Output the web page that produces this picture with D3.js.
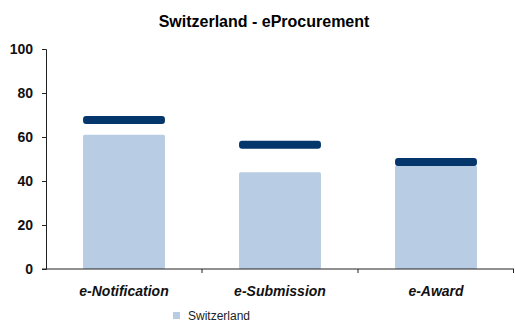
<!DOCTYPE html>
<html>
<head>
<meta charset="utf-8">
<script src="https://cdn.jsdelivr.net/npm/d3@7"></script>
<style>
  html, body { margin: 0; padding: 0; background: #fff; }
  svg { display: block; font-family: "Liberation Sans", Arial, sans-serif; }
</style>
</head>
<body>
<svg id="chart" width="515" height="325"></svg>
<script>
// eProcurement indicators for Switzerland
const categories = ["e-Notification", "e-Submission", "e-Award"];
const switzerlandValues = [61, 44, 47];
const benchmarkValues = [67.7, 56.5, 48.6];
const yTicks = [0, 20, 40, 60, 80, 100];
const seriesName = "Switzerland";
const titleText = "Switzerland - eProcurement";

const svg = d3.select("#chart");
const margin = { left: 46, right: 1, top: 49, bottom: 56 };
const W = 515, H = 325;

const x = d3.scaleBand()
  .domain(categories)
  .range([margin.left, W - margin.right])
  .paddingInner(0.475)
  .paddingOuter(0.2375);

const xOuter = d3.scaleBand()
  .domain(categories)
  .range([margin.left, W - margin.right]);

const y = d3.scaleLinear()
  .domain([0, 100])
  .range([H - margin.bottom, margin.top]);

// Title
svg.append("text")
  .attr("x", 264)
  .attr("y", 27)
  .attr("text-anchor", "middle")
  .attr("font-size", 16)
  .attr("font-weight", "bold")
  .attr("fill", "#000")
  .text(titleText);

// Bars
svg.append("g")
  .selectAll("rect")
  .data(categories)
  .join("rect")
  .attr("x", d => x(d))
  .attr("width", x.bandwidth())
  .attr("y", (d, i) => y(switzerlandValues[i]))
  .attr("height", (d, i) => y(0) - y(switzerlandValues[i]))
  .attr("rx", 1.5)
  .attr("fill", "#b8cce4");

// Benchmark markers
const markH = 8;
svg.append("g")
  .selectAll("rect")
  .data(categories)
  .join("rect")
  .attr("x", d => x(d))
  .attr("width", x.bandwidth())
  .attr("y", (d, i) => y(benchmarkValues[i]) - markH / 2)
  .attr("height", markH)
  .attr("rx", 3)
  .attr("fill", "#04356b");

// Y axis
const yAxis = svg.append("g")
  .attr("transform", `translate(${margin.left},0)`)
  .call(d3.axisLeft(y).tickValues(yTicks).tickSize(4).tickPadding(9));
yAxis.select(".domain").attr("stroke", "#222");
yAxis.selectAll(".tick line").attr("stroke", "#222");
yAxis.selectAll(".tick text")
  .attr("font-size", 14)
  .attr("font-weight", "bold")
  .attr("fill", "#111")
  .attr("font-family", "Liberation Sans, Arial, sans-serif");

// X axis
const xAxisG = svg.append("g")
  .attr("transform", `translate(0,${y(0)})`);
xAxisG.append("line")
  .attr("x1", margin.left - 4)
  .attr("x2", W - margin.right)
  .attr("stroke", "#222");
xAxisG.selectAll("line.sep")
  .data(categories.slice(1).concat(["end"]))
  .join("line")
  .attr("class", "sep")
  .attr("x1", (d, i) => i < categories.length - 1 ? xOuter(d) : W - margin.right - 0.5)
  .attr("x2", (d, i) => i < categories.length - 1 ? xOuter(d) : W - margin.right - 0.5)
  .attr("y1", 0)
  .attr("y2", 4)
  .attr("stroke", "#222");
xAxisG.selectAll("text")
  .data(categories)
  .join("text")
  .attr("x", d => xOuter(d) + xOuter.bandwidth() / 2)
  .attr("y", 27)
  .attr("text-anchor", "middle")
  .attr("font-size", 14)
  .attr("font-weight", "bold")
  .attr("font-style", "italic")
  .attr("fill", "#111")
  .text(d => d);

// Legend
const legend = svg.append("g").attr("transform", "translate(173,315)");
legend.append("rect")
  .attr("x", 0).attr("y", -3)
  .attr("width", 7).attr("height", 7)
  .attr("fill", "#b8cce4");
legend.append("text")
  .attr("x", 15).attr("y", 4.5)
  .attr("font-size", 12)
  .attr("fill", "#222")
  .text(seriesName);
</script>
</body>
</html>
